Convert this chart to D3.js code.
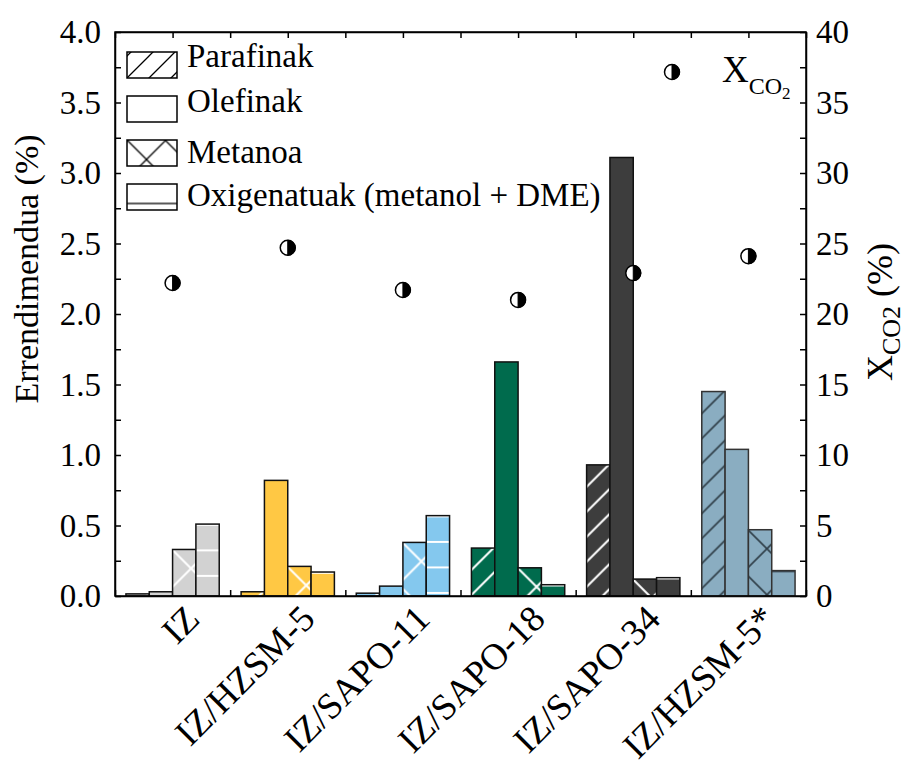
<!DOCTYPE html>
<html>
<head>
<meta charset="utf-8">
<script src="https://cdn.jsdelivr.net/npm/d3@7"></script>
<style>
  body { margin: 0; background: #fff; }
  svg text { font-family: "Liberation Serif", "Times New Roman", serif; fill: #000; }
  .axis path, .axis line { stroke: #000; stroke-width: 1.5px; }
  .axis text { font-size: 33px; }
</style>
</head>
<body>
<svg id="chart" width="908" height="769"></svg>
<script>

// values
var categories = ["IZ", "IZ/HZSM-5", "IZ/SAPO-11", "IZ/SAPO-18", "IZ/SAPO-34", "IZ/HZSM-5*"]
var parafinak   = [0.015, 0.03, 0.02, 0.34, 0.93, 1.45]
var olefinak    = [0.03, 0.82, 0.07, 1.66, 3.11, 1.04]
var metanoa     = [0.33, 0.21, 0.38, 0.20, 0.12, 0.47]
var oxigenatuak = [0.51, 0.17, 0.57, 0.08, 0.13, 0.18]
var xco2        = [22.2, 24.7, 21.7, 21.0, 22.9, 24.1]

var seriesNames = ["Parafinak", "Olefinak", "Metanoa", "Oxigenatuak (metanol + DME)"]
var seriesHatch = ["par", "none", "met", "oxy"]
var groupColors = ["#d2d2d2", "#ffc844", "#84c8ee", "#006b4d", "#3d3d3d", "#8aadc1"]
var yTicks  = d3.range(0, 4.001, 0.25)
var y2Ticks = d3.range(0, 40.01, 2.5)

var series = [parafinak, olefinak, metanoa, oxigenatuak]

var margin = {top: 32, right: 102, bottom: 173, left: 115},
    width = 908 - margin.left - margin.right,
    height = 769 - margin.top - margin.bottom;

var svg = d3.select("#chart")
var defs = svg.append("defs")

// hatch patterns, anchored at the top-left corner of the element using them
function hatch(id, w, h, dx, dy, d, color, sw) {
  defs.append("pattern").attr("id", id)
      .attr("patternUnits", "userSpaceOnUse")
      .attr("x", dx).attr("y", dy).attr("width", w).attr("height", h)
    .append("path").attr("d", d)
      .attr("stroke", color).attr("stroke-width", sw).attr("fill", "none")
}
var diag = "M-5,5 L5,-5 M0,25 L25,0 M20,30 L30,20"
var cross = "M0,0 L46,46 M46,0 L0,46"
var horiz = "M0,12.75 H10"
// bars: white lines on coloured bars, dark lines on the last group
;[["w", "#fff", 2], ["d", "#2f3e48", 1.6]].forEach(function(p) {
  hatch("par-" + p[0], 25, 25, 0, -3, diag, p[1], p[2])
  hatch("met-" + p[0], 46, 46, -4.5, -4, cross, p[1], p[2])
  hatch("oxy-" + p[0], 10, 25.5, 0, -11.95, horiz, p[1], p[2])
})
// legend boxes
hatch("par-k", 22, 22, 0, 4, "M-4,4 L4,-4 M0,22 L22,0 M18,26 L26,18", "#000", 1.3)
hatch("met-k", 38, 38, 19.5, 19.5, "M0,0 L38,38 M38,0 L0,38", "#000", 1.3)
hatch("oxy-k", 10, 26, 0, 6.5, "M0,13 H10", "#000", 1.3)

var g = svg.append("g")
  .attr("transform", "translate(" + margin.left + "," + margin.top + ")")

var x = d3.scaleBand().domain(categories).range([0, width])
var xLin = d3.scaleLinear().domain([0, categories.length]).range([0, width])
var y = d3.scaleLinear().domain([0, 4]).range([height, 0])
var y2 = d3.scaleLinear().domain([0, 40]).range([height, 0])
var groupWidth = x.bandwidth() * 0.81
var xs = d3.scaleBand().domain(d3.range(series.length)).range([0, groupWidth])

// axes (ticks point inward)
var halfTicks = d3.range(0, categories.length + 0.01, 0.5)

g.append("g").attr("class", "axis")
  .attr("transform", "translate(0," + height + ")")
  .call(d3.axisBottom(xLin).tickValues(halfTicks).tickSize(-6).tickSizeOuter(0).tickFormat(""))

g.append("g").attr("class", "axis")
  .call(d3.axisTop(xLin).tickValues(halfTicks).tickSize(-6).tickSizeOuter(0).tickFormat(""))

g.append("g").attr("class", "axis")
  .call(d3.axisLeft(y).tickValues(yTicks).tickSize(-6).tickSizeOuter(0).tickPadding(14)
    .tickFormat(function(d) { return d % 0.5 === 0 ? d3.format(".1f")(d) : "" }))

g.append("g").attr("class", "axis")
  .attr("transform", "translate(" + width + ",0)")
  .call(d3.axisRight(y2).tickValues(y2Ticks).tickSize(-6).tickSizeOuter(0).tickPadding(10)
    .tickFormat(function(d) { return d % 5 === 0 ? d : "" }))

// bars
var groups = g.selectAll(".grp").data(categories).enter().append("g")
  .attr("class", "grp")
  .attr("transform", function(c) { return "translate(" + (x(c) + (x.bandwidth() - groupWidth) / 2) + ",0)" })

groups.each(function(c, gi) {
  var grp = d3.select(this)
  series.forEach(function(vals, si) {
    var v = vals[gi]
    var h = y(0) - y(v)
    var bar = grp.append("g")
      .attr("transform", "translate(" + xs(si) + "," + y(v) + ")")
    bar.append("rect")
      .attr("width", xs.bandwidth()).attr("height", h)
      .attr("fill", groupColors[gi])
    if (seriesHatch[si] !== "none") {
      bar.append("rect")
        .attr("width", xs.bandwidth()).attr("height", h)
        .attr("fill", "url(#" + seriesHatch[si] + "-" + (gi === 5 ? "d" : "w") + ")")
    }
    bar.append("rect")
      .attr("width", xs.bandwidth()).attr("height", h)
      .attr("fill", "none")
      .attr("stroke", gi === 5 ? "#333" : "#111").attr("stroke-width", 1.5)
  })
})

// frame on top
g.append("rect").attr("width", width).attr("height", height)
  .attr("fill", "none").attr("stroke", "#000").attr("stroke-width", 1.5)

// X_CO2 markers
function marker(sel, cx, cy) {
  var r = 7.5
  sel.append("circle").attr("cx", cx).attr("cy", cy).attr("r", r)
    .attr("fill", "#fff").attr("stroke", "#000").attr("stroke-width", 1.5)
  sel.append("path")
    .attr("d", "M" + cx + "," + (cy - r) + " A" + r + "," + r + " 0 0 1 " + cx + "," + (cy + r) + " Z")
    .attr("fill", "#000").attr("stroke", "#000").attr("stroke-width", 1)
}
categories.forEach(function(c, i) {
  marker(g, x(c) + x.bandwidth() / 2, y2(xco2[i]))
})

// category labels
g.selectAll(".xlab").data(categories).enter().append("text")
  .attr("class", "xlab")
  .attr("text-anchor", "end")
  .style("font-size", "37px")
  .attr("transform", function(c) {
    return "translate(" + (x(c) + x.bandwidth() / 2 + 29) + "," + (height + 25) + ") rotate(-45)"
  })
  .text(function(c) { return c })

// axis titles
g.append("text")
  .attr("text-anchor", "middle")
  .style("font-size", "34px")
  .attr("transform", "translate(" + (38 - margin.left) + "," + (269 - margin.top) + ") rotate(-90)")
  .text("Errendimendua (%)")

var rt = g.append("text")
  .attr("text-anchor", "middle")
  .style("font-size", "36px")
  .attr("transform", "translate(" + (width + 86) + "," + (312 - margin.top) + ") rotate(-90)")
rt.append("tspan").text("X")
rt.append("tspan").attr("dy", 8).style("font-size", "26px").text("CO2")
rt.append("tspan").attr("dy", -8).text(" (%)")

// legend
var legendTextOffset = [15, 16, 23, 22]
var legend = g.append("g").attr("transform", "translate(12,0)")
seriesNames.forEach(function(name, i) {
  var top = 20 + i * 44
  var item = legend.append("g").attr("transform", "translate(0," + top + ")")
  item.append("rect").attr("width", 50).attr("height", 26).attr("fill", "#fff")
  if (seriesHatch[i] !== "none") {
    item.append("rect").attr("width", 50).attr("height", 26)
      .attr("fill", "url(#" + seriesHatch[i] + "-k)")
  }
  item.append("rect").attr("width", 50).attr("height", 26)
    .attr("fill", "none").attr("stroke", "#000").attr("stroke-width", 1.5)
  legend.append("text").attr("x", 60).attr("y", top + legendTextOffset[i])
    .style("font-size", "33px").text(name)
})

// X_CO2 legend entry
marker(g, 557, 40)
var lt = g.append("text").attr("x", 607).attr("y", 50).style("font-size", "37px")
lt.append("tspan").text("X")
lt.append("tspan").attr("dy", 12).style("font-size", "24px").text("CO")
lt.append("tspan").attr("dy", 5).style("font-size", "17px").text("2")

</script>
</body>
</html>
